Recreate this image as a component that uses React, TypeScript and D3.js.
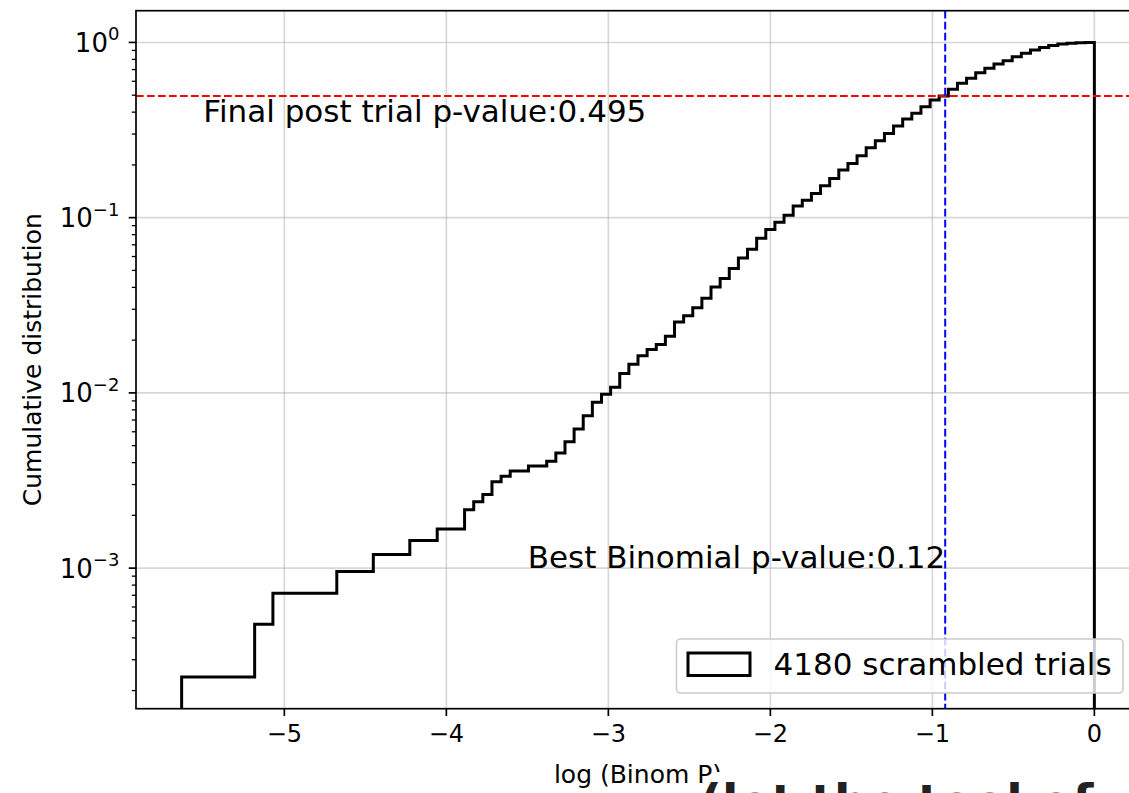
import React from "react";
import * as d3 from "d3";

// Cumulative histogram of log10(binomial p) over scrambled trials (100 equal bins)
const N_TRIALS = 4180;
const BIN_MIN = -5.634;
const BIN_MAX = 0;
const cumulativeCounts = [
  1, 1, 1, 1, 1, 1, 1, 1, 2, 2,
  3, 3, 3, 3, 3, 3, 3, 4, 4, 4,
  4, 5, 5, 5, 5, 6, 6, 6, 7, 7,
  7, 9, 10, 11, 13, 14, 15, 15, 16, 16,
  17, 19, 22, 26, 31, 37, 41, 45, 54, 61,
  68, 74, 79, 88, 106, 115, 128, 145, 168, 188,
  214, 246, 276, 319, 358, 394, 432, 487, 526, 575,
  635, 700, 781, 853, 943, 1047, 1148, 1265, 1393, 1528,
  1647, 1796, 1962, 2068, 2258, 2443, 2610, 2809, 2977, 3150,
  3290, 3467, 3626, 3787, 3906, 4010, 4099, 4135, 4162, 4180,
];
const xTicks = [-5, -4, -3, -2, -1, 0];
const yTickExponents = [-3, -2, -1, 0];
const finalPostTrialP = 0.495;
const bestBinomialP = 0.12;
const legendLabel = `${N_TRIALS} scrambled trials`;

const W = 1129;
const H = 793;
const plot = { left: 136, right: 1140, top: 10.7, bottom: 708.7 };
const FONT = "DejaVu Sans, Liberation Sans, sans-serif";

export default function App() {
  const nBins = cumulativeCounts.length;
  const binW = (BIN_MAX - BIN_MIN) / nBins;
  const edges = d3.range(nBins + 1).map((i) => BIN_MIN + i * binW);
  const fractions = cumulativeCounts.map((c) => c / N_TRIALS);

  // matplotlib-style 5% margins (linear in x, in log-space for y)
  const xSpan = BIN_MAX - BIN_MIN;
  const xScale = d3
    .scaleLinear()
    .domain([BIN_MIN - 0.05 * xSpan, BIN_MAX + 0.05 * xSpan])
    .range([plot.left, plot.right]);
  const lo = Math.log10(d3.min(fractions)!);
  const hi = Math.log10(d3.max(fractions)!);
  const lSpan = hi - lo;
  const yMin = Math.pow(10, lo - 0.05 * lSpan);
  const yMax = Math.pow(10, hi + 0.05 * lSpan);
  const yScale = d3.scaleLog().domain([yMin, yMax]).range([plot.bottom, plot.top]);

  const pts: [number, number][] = [[edges[0], yMin]];
  fractions.forEach((f, i) => {
    pts.push([edges[i], f]);
    pts.push([edges[i + 1], f]);
  });
  pts.push([edges[nBins], yMin]);
  const stepPath = d3
    .line<[number, number]>()
    .x((d) => xScale(d[0]))
    .y((d) => yScale(d[1]))(pts)!;

  const minorTicks: number[] = [];
  for (let e = -4; e <= 0; e++) {
    for (let m = 2; m <= 9; m++) {
      const v = m * Math.pow(10, e);
      if (v >= yMin && v <= yMax) minorTicks.push(v);
    }
  }

  const bestX = xScale(Math.log10(bestBinomialP));
  const finalY = yScale(finalPostTrialP);
  const tickLen = 7.3;
  const minorLen = 4.2;

  return (
    <svg width={W} height={H} style={{ display: "block", position: "absolute", left: 0, top: 0 }}
      fontFamily={FONT}>
      <defs>
        <clipPath id="plotArea">
          <rect x={plot.left} y={plot.top} width={plot.right - plot.left} height={plot.bottom - plot.top} />
        </clipPath>
      </defs>
      <rect width={W} height={H} fill="#fff" />

      {/* grid */}
      <g stroke="#b0b0b0" strokeOpacity={0.5} strokeWidth={1.6}>
        {xTicks.map((t) => (
          <line key={"gx" + t} x1={xScale(t)} x2={xScale(t)} y1={plot.top} y2={plot.bottom} />
        ))}
        {yTickExponents.map((e) => (
          <line key={"gy" + e} x1={plot.left} x2={plot.right} y1={yScale(Math.pow(10, e))} y2={yScale(Math.pow(10, e))} />
        ))}
      </g>

      <g clipPath="url(#plotArea)">
        <path d={stepPath} fill="none" stroke="#000" strokeWidth={3} strokeLinejoin="miter" />
        <line x1={plot.left} x2={plot.right} y1={finalY} y2={finalY} stroke="#ff0000"
          strokeWidth={2} strokeDasharray="7.7 3.3" />
        <line x1={bestX} x2={bestX} y1={plot.top} y2={plot.bottom} stroke="#0000ff"
          strokeWidth={2} strokeDasharray="7.7 3.3" />
      </g>

      {/* annotations */}
      <text x={xScale(-5.5)} y={yScale(0.35)} fontSize={31} fill="#000">
        Final post trial p-value:{finalPostTrialP}
      </text>
      <text x={bestX} y={yScale(1e-3)} fontSize={31} fill="#000" textAnchor="end">
        Best Binomial p-value:{bestBinomialP}
      </text>

      {/* legend */}
      <g>
        <rect x={676.5} y={639} width={446.5} height={54} rx={4} fill="#fff" fillOpacity={0.8}
          stroke="#cccccc" strokeWidth={1.6} />
        <rect x={688} y={653} width={62} height={22.5} fill="none" stroke="#000" strokeWidth={3} />
        <text x={773.5} y={675} fontSize={31} fill="#000">{legendLabel}</text>
      </g>

      {/* spines */}
      <rect x={plot.left} y={plot.top} width={plot.right - plot.left} height={plot.bottom - plot.top}
        fill="none" stroke="#000" strokeWidth={1.7} />

      {/* x axis */}
      <g>
        {xTicks.map((t) => (
          <g key={"xt" + t}>
            <line x1={xScale(t)} x2={xScale(t)} y1={plot.bottom} y2={plot.bottom + tickLen} stroke="#000" strokeWidth={1.7} />
            <text x={xScale(t)} y={plot.bottom + 2 * tickLen + 18.5} fontSize={24} textAnchor="middle" fill="#000">
              {t < 0 ? "\u2212" + Math.abs(t) : String(t)}
            </text>
          </g>
        ))}
      </g>

      {/* y axis */}
      <g>
        {yTickExponents.map((e) => {
          const y = yScale(Math.pow(10, e));
          return (
            <g key={"yt" + e}>
              <line x1={plot.left - tickLen} x2={plot.left} y1={y} y2={y} stroke="#000" strokeWidth={1.7} />
              <text x={plot.left - 2 * tickLen - 2} y={y + 9.5} fontSize={26} textAnchor="end" fill="#000">
                10
                <tspan fontSize={18} dy={-11.5}>{e < 0 ? "\u2212" + Math.abs(e) : String(e)}</tspan>
              </text>
            </g>
          );
        })}
        {minorTicks.map((v) => (
          <line key={"ym" + v} x1={plot.left - minorLen} x2={plot.left} y1={yScale(v)} y2={yScale(v)}
            stroke="#000" strokeWidth={1.3} />
        ))}
      </g>

      {/* axis labels */}
      <text x={(plot.left + plot.right) / 2} y={783} fontSize={25} textAnchor="middle" fill="#000">
        log (Binom P)
      </text>
      <text transform={`translate(41,${(plot.top + plot.bottom) / 2}) rotate(-90)`} fontSize={25}
        textAnchor="middle" fill="#000">
        Cumulative distribution
      </text>

      {/* heading of the following section, mostly below the frame */}
      <rect x={715} y={772} width={W - 715} height={H - 772} fill="#fff" />
      <text x={700} y={819} fontSize={48} fontWeight="bold" fill="#222">
        (lot the tool of
      </text>
    </svg>
  );
}
